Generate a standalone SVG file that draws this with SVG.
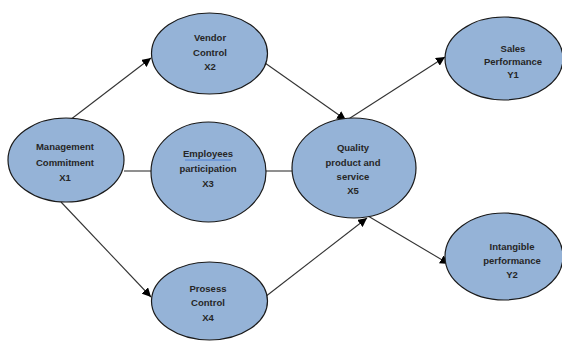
<svg xmlns="http://www.w3.org/2000/svg" width="562" height="343" viewBox="0 0 562 343">
<style>
.node ellipse{fill:#95b3d7;stroke:#1a1a1a;stroke-width:1.2}
.node text{font-family:"Liberation Sans",Arial,sans-serif;font-size:9.5px;font-weight:bold;fill:#262626;text-anchor:middle}
.conn line{stroke:#333;stroke-width:1.1}
.conn line.arr{marker-end:url(#ah)}
</style>
<defs>
<marker id="ah" viewBox="0 0 10 10" refX="10" refY="5" markerWidth="9" markerHeight="9" markerUnits="userSpaceOnUse" orient="auto">
<path d="M0,0L10,5L0,10z" fill="#000"/>
</marker>
</defs>
<rect width="562" height="343" fill="#fff"/>
<g id="connectors" class="conn">
<line class="arr" x1="70" y1="120" x2="151" y2="58"/>
<line x1="124" y1="171" x2="151" y2="171"/>
<line class="arr" x1="61" y1="202" x2="151" y2="297"/>
<line class="arr" x1="265" y1="63" x2="346" y2="120"/>
<line x1="266" y1="171" x2="292" y2="171"/>
<line class="arr" x1="265" y1="297" x2="367" y2="218"/>
<line class="arr" x1="347" y1="120" x2="445" y2="57"/>
<line class="arr" x1="368" y1="216" x2="449" y2="264"/>
</g>
<g id="X1" class="node">
<ellipse cx="66" cy="160" rx="58" ry="42"/>
<text x="65" y="150">Management</text>
<text x="65" y="166">Commitment</text>
<text x="65" y="181">X1</text>
</g>
<g id="X2" class="node">
<ellipse cx="209.5" cy="53.5" rx="58" ry="40.5"/>
<text x="210" y="41">Vendor</text>
<text x="210" y="55.5">Control</text>
<text x="210" y="70">X2</text>
</g>
<g id="X3" class="node">
<ellipse cx="208.5" cy="172" rx="57.5" ry="50"/>
<text x="208" y="157">Employees</text>
<line x1="185" y1="160" x2="231" y2="160" stroke="#4a7fd6" stroke-width="1"/>
<text x="208" y="172">participation</text>
<text x="208" y="187">X3</text>
</g>
<g id="X4" class="node">
<ellipse cx="209.5" cy="301" rx="58" ry="39"/>
<text x="208" y="292">Prosess</text>
<text x="208" y="306">Control</text>
<text x="208" y="321">X4</text>
</g>
<g id="X5" class="node">
<ellipse cx="354" cy="168" rx="62" ry="50"/>
<text x="353" y="151">Quality</text>
<text x="353" y="166">product and</text>
<text x="353" y="180">service</text>
<text x="353" y="194">X5</text>
</g>
<g id="Y1" class="node">
<ellipse cx="504" cy="58.5" rx="59" ry="41.5"/>
<text x="513" y="52">Sales</text>
<text x="513" y="65">Performance</text>
<text x="513" y="78">Y1</text>
</g>
<g id="Y2" class="node">
<ellipse cx="504" cy="256.5" rx="59" ry="43.5"/>
<text x="512" y="250">Intangible</text>
<text x="512" y="264">performance</text>
<text x="512" y="278">Y2</text>
</g>
</svg>
